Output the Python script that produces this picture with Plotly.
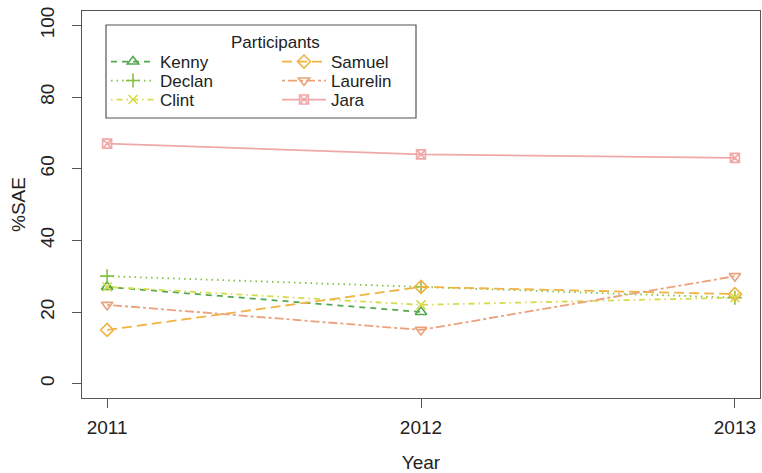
import plotly.graph_objects as go

years = [2011, 2012, 2013]
names = ["Kenny", "Declan", "Clint", "Samuel", "Laurelin", "Jara"]
kenny = [27, 20, None]
declan = [30, 27, 24]
clint = [27, 22, 24]
samuel = [15, 27, 25]
laurelin = [22, 15, 30]
jara = [67, 64, 63]
values = [kenny, declan, clint, samuel, laurelin, jara]

colors = ["#52A84E", "#84C043", "#D6DB4A", "#EFB443", "#EAA27C", "#F0A8A8"]
dashes = ["6px,5px", "1.5px,4px", "1.5px,4px,6px,4px", "10px,5px", "3px,3px,9px,3px", "solid"]
symbols = ["triangle-up-open", "cross-thin-open", "x-thin-open", "diamond-open",
           "triangle-down-open", "square-x-open"]
sizes = [10, 10, 9, 10, 10, 9]

FONT = "Liberation Sans, Arial, Helvetica, sans-serif"
fig = go.Figure()
for i, n in enumerate(names):
    fig.add_trace(go.Scatter(
        x=years, y=values[i], name=n, mode="lines+markers",
        line=dict(color=colors[i], dash=dashes[i], width=1.8),
        marker=dict(symbol=symbols[i], size=sizes[i], color=colors[i],
                    line=dict(color=colors[i], width=1.6)),
        legend="legend" if i == 0 else "legend%d" % (i + 1), connectgaps=False,
        showlegend=True,
    ))

axis_common = dict(showline=True, mirror=True, linecolor="#555555", linewidth=1.2,
                   ticks="outside", ticklen=9, tickcolor="#555555", tickwidth=1.2,
                   showgrid=False, zeroline=False, automargin=False,
                   tickfont=dict(family=FONT, size=19, color="#222222"))

fig.update_xaxes(range=[2010.92, 2013.08], tickvals=years, ticktext=[str(y) for y in years],
                 ticklabelstandoff=3,
                 title=dict(text="Year", font=dict(family=FONT, size=19, color="#222222"), standoff=22),
                 **axis_common)
fig.update_yaxes(range=[-4, 104], tickvals=[0, 20, 40, 60, 80, 100], tickangle=-90,
                 ticklabelstandoff=10,
                 title=dict(text="%SAE", font=dict(family=FONT, size=19, color="#222222"), standoff=6),
                 **axis_common)

# plot area in pixels: x 82..760, y 11..398
def px_x(p):
    return (p - 82) / 678.0

def px_y(p):
    return 1 - (p - 11) / 387.0

leg_common = dict(font=dict(family=FONT, size=17, color="#222222"), bgcolor="rgba(0,0,0,0)",
                  borderwidth=0, orientation="v", xanchor="left", yanchor="middle",
                  itemwidth=44, visible=True)
row_y = [62, 81, 100]
col_x = [106, 277]
layout_legends = {}
for i in range(6):
    key = "legend" if i == 0 else "legend%d" % (i + 1)
    layout_legends[key] = dict(x=px_x(col_x[i // 3]), y=px_y(row_y[i % 3]), **leg_common)

fig.update_layout(
    width=762, height=473,
    margin=dict(l=82, r=2, t=11, b=75),
    showlegend=True,
    plot_bgcolor="white", paper_bgcolor="white",
    shapes=[dict(type="rect", xref="paper", yref="paper",
                 x0=px_x(106), x1=px_x(416), y0=px_y(118), y1=px_y(25),
                 line=dict(color="#555555", width=1.2), fillcolor="rgba(0,0,0,0)")],
    annotations=[dict(text="Participants", xref="paper", yref="paper", x=px_x(275), y=px_y(42),
                      xanchor="center", yanchor="middle", showarrow=False,
                      font=dict(family=FONT, size=17, color="#222222"))],
    **layout_legends,
)

fig.write_html("out.html", config={"displayModeBar": False},
               post_script="document.body.style.margin='0';")
